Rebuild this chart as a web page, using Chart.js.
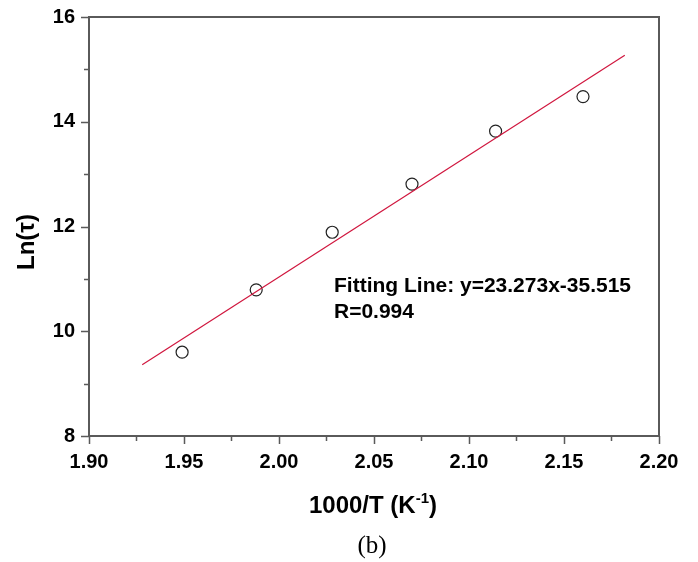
<!DOCTYPE html>
<html>
<head>
<meta charset="utf-8">
<script src="https://cdn.jsdelivr.net/npm/chart.js@4/dist/chart.umd.min.js"></script>
<style>
  html, body { margin: 0; padding: 0; background: #fff; }
  #wrap { width: 698px; height: 562px; position: relative; }
</style>
</head>
<body>
<div id="wrap"><canvas id="myChart" width="698" height="562"></canvas></div>
<script>
"use strict";

// measured points: 1000/T vs Ln(tau)
let xValues = [1.949, 1.988, 2.028, 2.070, 2.114, 2.160];
let yValues = [9.60, 10.79, 11.89, 12.81, 13.82, 14.48];

// ends of the red fitting line
let fitX = [1.928, 2.182];
let fitY = [9.36, 15.27];

let xTicks = [1.90, 1.95, 2.00, 2.05, 2.10, 2.15, 2.20];
let yTicks = [8, 10, 12, 14, 16];

let axisColor = "#5a5a5a";
let boldFont = "'Liberation Sans', Arial, sans-serif";

function toPoints(xs, ys) {
	let out = [];
	for (let i = 0; i < xs.length; i++) out.push({ x: xs[i], y: ys[i] });
	return out;
}

// frame, ticks (major + minor), axis titles and text notes
let decor = {
	id: "decor",
	afterDraw(chart) {
		let ctx = chart.ctx;
		let a = chart.chartArea;
		let sx = chart.scales.x;
		let sy = chart.scales.y;
		ctx.save();
		ctx.strokeStyle = axisColor;
		ctx.lineWidth = 2;
		ctx.strokeRect(a.left, a.top, a.right - a.left, a.bottom - a.top);

		ctx.lineWidth = 1.5;
		ctx.beginPath();
		for (let i = 0; i < xTicks.length; i++) {
			let px = Math.round(sx.getPixelForValue(xTicks[i])) + 0.5;
			ctx.moveTo(px, a.bottom);
			ctx.lineTo(px, a.bottom + 8);
			if (i < xTicks.length - 1) {
				let mx = Math.round(sx.getPixelForValue(xTicks[i] + 0.025)) + 0.5;
				ctx.moveTo(mx, a.bottom);
				ctx.lineTo(mx, a.bottom + 5);
			}
		}
		for (let i = 0; i < yTicks.length; i++) {
			let py = Math.round(sy.getPixelForValue(yTicks[i])) + 0.5;
			ctx.moveTo(a.left, py);
			ctx.lineTo(a.left - 8, py);
			if (i < yTicks.length - 1) {
				let my = Math.round(sy.getPixelForValue(yTicks[i] + 1)) + 0.5;
				ctx.moveTo(a.left, my);
				ctx.lineTo(a.left - 5, my);
			}
		}
		ctx.stroke();

		ctx.fillStyle = "#000";
		// y title
		ctx.save();
		ctx.translate(27, 242);
		ctx.rotate(-Math.PI / 2);
		ctx.textAlign = "center";
		ctx.textBaseline = "middle";
		ctx.font = "bold 24px " + boldFont;
		ctx.fillText("Ln(\u03c4)", 0, 0);
		ctx.restore();

		// x title with superscript
		let main = "1000/T (K";
		let sup = "-1";
		let tail = ")";
		ctx.font = "bold 24px " + boldFont;
		let w1 = ctx.measureText(main).width;
		let w3 = ctx.measureText(tail).width;
		ctx.font = "bold 15px " + boldFont;
		let w2 = ctx.measureText(sup).width;
		let left = 373 - (w1 + w2 + w3) / 2;
		let base = 513;
		ctx.textAlign = "left";
		ctx.textBaseline = "alphabetic";
		ctx.font = "bold 24px " + boldFont;
		ctx.fillText(main, left, base);
		ctx.font = "bold 15px " + boldFont;
		ctx.fillText(sup, left + w1, base - 10);
		ctx.font = "bold 24px " + boldFont;
		ctx.fillText(tail, left + w1 + w2, base);

		// fit notes
		ctx.font = "bold 21px " + boldFont;
		ctx.fillText("Fitting Line: y=23.273x-35.515", 334, 292);
		ctx.fillText("R=0.994", 334, 318);

		// panel label
		ctx.font = "25px 'Liberation Serif', 'Times New Roman', serif";
		ctx.textAlign = "center";
		ctx.fillText("(b)", 372, 553);
		ctx.restore();
	}
};

let myChart = new Chart(document.getElementById("myChart"), {
	type: "scatter",
	data: {
		datasets: [
			{
				label: "fit",
				data: toPoints(fitX, fitY),
				showLine: true,
				borderColor: "#d0163e",
				borderWidth: 1.2,
				pointRadius: 0,
				fill: false
			},
			{
				label: "data",
				data: toPoints(xValues, yValues),
				pointRadius: 6,
				pointStyle: "circle",
				borderColor: "#222",
				borderWidth: 1.2,
				backgroundColor: "rgba(255,255,255,0)"
			}
		]
	},
	options: {
		responsive: false,
		animation: false,
		layout: { padding: { left: 0, top: 17, right: 39, bottom: 0 } },
		plugins: { legend: { display: false }, tooltip: { enabled: false } },
		scales: {
			x: {
				type: "linear",
				min: 1.90,
				max: 2.20,
				afterBuildTicks: function (scale) {
					scale.ticks = xTicks.map(function (v) { return { value: v }; });
				},
				afterFit: function (scale) {
					scale.height = 126;
					scale.paddingLeft = 0;
					scale.paddingRight = 0;
				},
				grid: { display: false, drawTicks: false },
				border: { display: false },
				ticks: {
					padding: 14,
					color: "#000",
					font: { family: boldFont, size: 20, weight: "bold" },
					callback: function (v) { return v.toFixed(2); },
					maxRotation: 0
				}
			},
			y: {
				type: "linear",
				min: 8,
				max: 16,
				afterBuildTicks: function (scale) {
					scale.ticks = yTicks.map(function (v) { return { value: v }; });
				},
				afterFit: function (scale) {
					scale.width = 89;
					scale.paddingTop = 0;
					scale.paddingBottom = 0;
				},
				grid: { display: false, drawTicks: false },
				border: { display: false },
				ticks: {
					padding: 14,
					color: "#000",
					font: { family: boldFont, size: 20, weight: "bold" },
					callback: function (v) { return String(v); }
				}
			}
		}
	},
	plugins: [decor]
});
</script>
</body>
</html>
